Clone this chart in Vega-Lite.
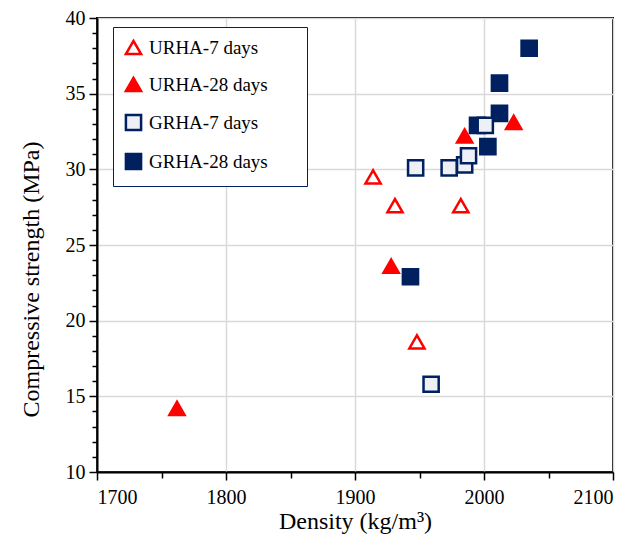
{
  "$schema": "https://vega.github.io/schema/vega-lite/v6.json",
  "width": 516,
  "height": 454,
  "autosize": {"type": "none"},
  "padding": {"left": 97, "top": 18, "right": 28, "bottom": 66},
  "background": "white",
  "config": {
    "font": "Liberation Serif",
    "view": {"stroke": "black", "strokeWidth": 2},
    "axis": {
      "domainColor": "black",
      "domainWidth": 2,
      "tickColor": "black",
      "tickWidth": 1.5,
      "labelColor": "black",
      "titleColor": "black",
      "labelFont": "Liberation Serif",
      "titleFont": "Liberation Serif",
      "labelFontSize": 20,
      "titleFontSize": 24,
      "titleFontWeight": "normal",
      "gridColor": "#d9d9d9",
      "gridWidth": 1.5
    }
  },
  "data": {
    "values": [
      {"series": "GRHA-28 days", "density": 1943, "strength": 22.9},
      {"series": "GRHA-28 days", "density": 2035, "strength": 38.0},
      {"series": "GRHA-28 days", "density": 2012, "strength": 35.7},
      {"series": "GRHA-28 days", "density": 2012, "strength": 33.7},
      {"series": "GRHA-28 days", "density": 1995, "strength": 32.9},
      {"series": "GRHA-28 days", "density": 2003, "strength": 31.5},
      {"series": "GRHA-7 days", "density": 1947, "strength": 30.1},
      {"series": "GRHA-7 days", "density": 1973, "strength": 30.1},
      {"series": "GRHA-7 days", "density": 1985, "strength": 30.3},
      {"series": "GRHA-7 days", "density": 1988, "strength": 30.9},
      {"series": "GRHA-7 days", "density": 2001, "strength": 32.9},
      {"series": "GRHA-7 days", "density": 1959, "strength": 15.8},
      {"series": "URHA-7 days", "density": 1914, "strength": 29.5},
      {"series": "URHA-7 days", "density": 1931, "strength": 27.6},
      {"series": "URHA-7 days", "density": 1982, "strength": 27.6},
      {"series": "URHA-7 days", "density": 1948, "strength": 18.6},
      {"series": "URHA-28 days", "density": 1762, "strength": 14.2},
      {"series": "URHA-28 days", "density": 1928, "strength": 23.6},
      {"series": "URHA-28 days", "density": 1985, "strength": 32.2},
      {"series": "URHA-28 days", "density": 2023, "strength": 33.1}
    ]
  },
  "mark": {"type": "point", "size": 230, "strokeWidth": 2.5, "opacity": 1, "filled": false},
  "encoding": {
    "x": {
      "field": "density",
      "type": "quantitative",
      "scale": {"domain": [1700, 2100], "nice": false, "zero": false},
      "axis": {
        "title": "Density (kg/m³)",
        "values": [1700, 1750, 1800, 1850, 1900, 1950, 2000, 2050, 2100],
        "labelExpr": "datum.value % 100 === 0 ? datum.label : ''",
        "format": "d",
        "tickSize": {"condition": {"test": "datum.value % 100 === 0", "value": 8}, "value": 6},
        "labelPadding": 7,
        "titlePadding": 2,
        "gridOpacity": {"condition": {"test": "datum.value % 100 === 0", "value": 1}, "value": 0}
      }
    },
    "y": {
      "field": "strength",
      "type": "quantitative",
      "scale": {"domain": [10, 40], "nice": false, "zero": false},
      "axis": {
        "title": "Compressive strength (MPa)",
        "values": [10,11,12,13,14,15,16,17,18,19,20,21,22,23,24,25,26,27,28,29,30,31,32,33,34,35,36,37,38,39,40],
        "labelExpr": "datum.value % 5 === 0 ? datum.label : ''",
        "tickSize": {"condition": {"test": "datum.value % 5 === 0", "value": 8}, "value": 5},
        "labelPadding": 4,
        "titlePadding": 22,
        "titleY": 261,
        "gridOpacity": {"condition": {"test": "datum.value % 5 === 0", "value": 1}, "value": 0}
      }
    },
    "shape": {
      "field": "series",
      "type": "nominal",
      "scale": {
        "domain": ["URHA-7 days", "URHA-28 days", "GRHA-7 days", "GRHA-28 days"],
        "range": ["triangle-up", "triangle-up", "square", "square"]
      },
      "legend": {
        "title": null,
        "orient": "none",
        "legendX": 16,
        "legendY": 9,
        "padding": 11,
        "rowPadding": 12,
        "strokeColor": "#002060",
        "fillColor": "white",
        "labelFont": "Liberation Serif",
        "labelFontSize": 19,
        "labelColor": "black",
        "labelOffset": 6,
        "labelLimit": 300,
        "symbolSize": 230,
        "symbolStrokeWidth": 2.5,
        "labelExpr": "datum.label + '\u2800\u2800'"
      }
    },
    "stroke": {
      "field": "series",
      "type": "nominal",
      "scale": {
        "domain": ["URHA-7 days", "URHA-28 days", "GRHA-7 days", "GRHA-28 days"],
        "range": ["#ff0000", "#ff0000", "#002060", "#002060"]
      }
    },
    "fill": {
      "field": "series",
      "type": "nominal",
      "scale": {
        "domain": ["URHA-7 days", "URHA-28 days", "GRHA-7 days", "GRHA-28 days"],
        "range": ["#ffffff", "#ff0000", "#eef0f6", "#002060"]
      }
    }
  }
}
